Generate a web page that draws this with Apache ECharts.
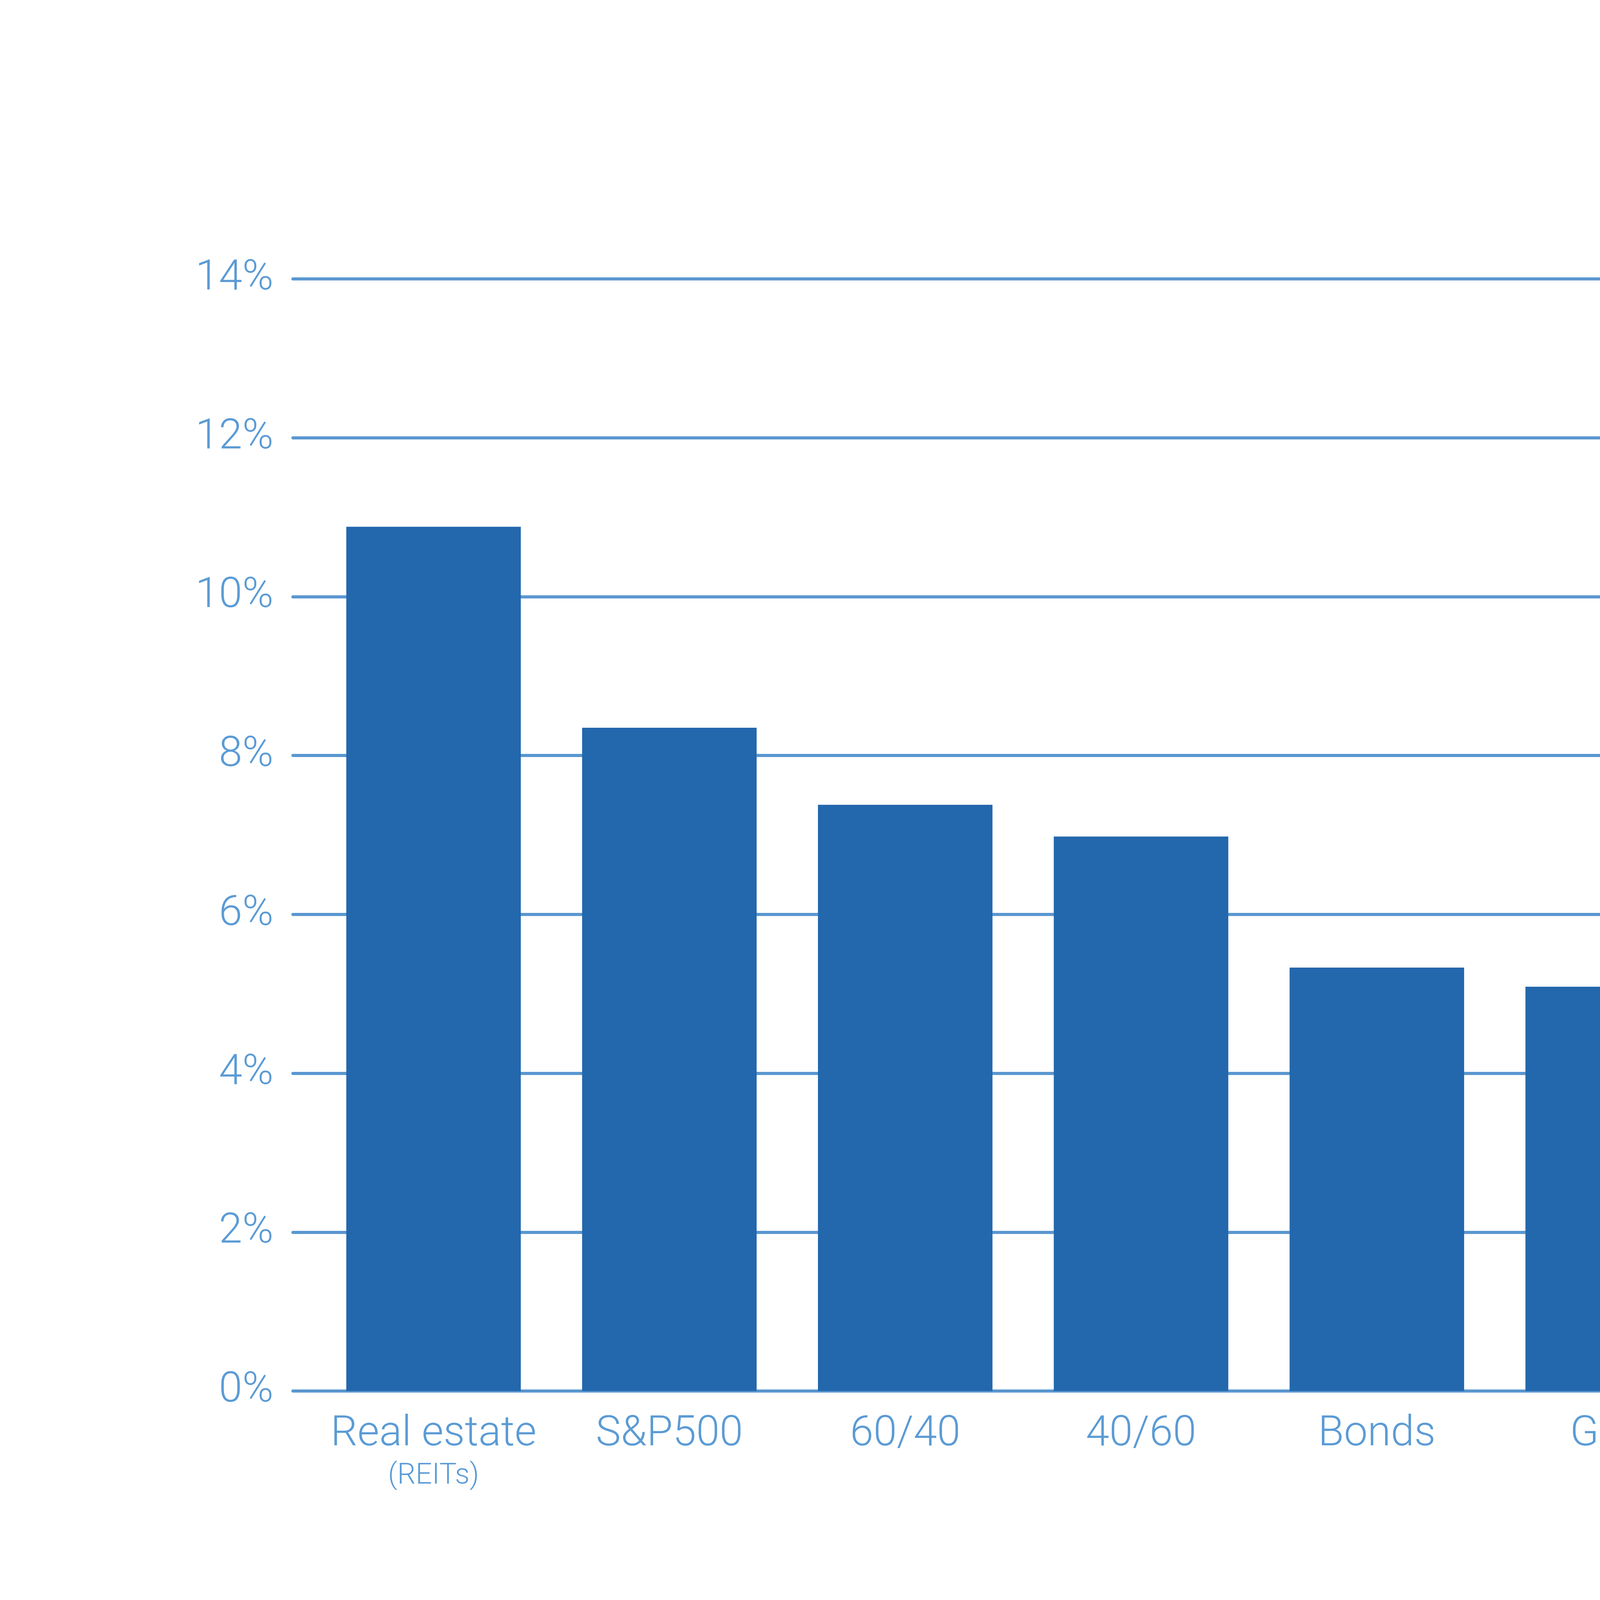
<!DOCTYPE html>
<html>
<head>
<meta charset="utf-8">
<script src="https://cdn.jsdelivr.net/npm/echarts@6/dist/echarts.min.js"></script>
<style>
  html, body { margin: 0; padding: 0; background: #ffffff; }
  #chart_div { width: 8000px; height: 4500px; }
</style>
</head>
<body>
<div id="chart_div"></div>
<script>
// data (annual return, %)
var categories = ['Real estate', 'S&P500', '60/40', '40/60', 'Bonds', 'Gold', 'Equities', 'House\nprices', 'Oil', 'Inflation', 'Average\ninvestor'];
var subLabels = ['(REITs)', '', '', '', '', '', '(ex US)', '', '', '', ''];
var returns = [10.88, 8.35, 7.38, 6.98, 5.33, 5.09, 4.74, 3.56, 3.34, 2.37, 2.0];
var highlight = 'Average\ninvestor';
var yTicks = [0, 2, 4, 6, 8, 10, 12, 14];

var c_bar = '#2367ad';
var c_hi = '#22b0e4';
var c_text = '#5b9bd5';
var c_grid = '#5a97d0';
var f_family = 'Roboto, "Liberation Sans", sans-serif';

var f_label = function(value, idx) {
	var sub = subLabels[idx];
	var lines = value.split('\n').map(function(s) { return '{a|' + s + '}'; });
	if (sub) lines.push('{b|' + sub + '}');
	return lines.join('\n');
};

var t_data = [];
for (var i = 0; i < returns.length; i++) {
	t_data.push({
		value: returns[i],
		itemStyle: { color: categories[i] === highlight ? c_hi : c_bar }
	});
}

var yMin = yTicks[0], yMax = yTicks[yTicks.length - 1], yStep = yTicks[1] - yTicks[0];

var option = {
	backgroundColor: '#ffffff',
	animation: false,
	grid: [
		// wide grid: gridlines + y labels
		{ left: 750, right: 495, top: 714, bottom: 939 },
		// narrow grid: the bars
		{ left: 808, right: 551, top: 714, bottom: 939 }
	],
	xAxis: [
		{ gridIndex: 0, type: 'category', data: [''], show: false },
		{
			gridIndex: 1, type: 'category', data: categories,
			axisLine: { show: false }, axisTick: { show: false },
			axisLabel: {
				margin: 45, interval: 0,
				formatter: f_label,
				rich: {
					a: { fontFamily: f_family, fontWeight: 300, fontSize: 108, lineHeight: 133, color: c_text, align: 'center' },
					b: { fontFamily: f_family, fontWeight: 300, fontSize: 74, lineHeight: 81, color: c_text, align: 'center' }
				}
			}
		}
	],
	yAxis: [
		{
			gridIndex: 0, type: 'value', min: yMin, max: yMax, interval: yStep,
			axisLine: { show: false }, axisTick: { show: false },
			axisLabel: {
				margin: 50, formatter: '{value}%',
				fontFamily: f_family, fontWeight: 300, fontSize: 108, color: c_text
			},
			splitLine: { show: true, lineStyle: { color: c_grid, width: 8, cap: 'round' } }
		},
		{
			gridIndex: 1, type: 'value', min: yMin, max: yMax, interval: yStep,
			show: false, splitLine: { show: false }
		}
	],
	series: [
		{
			type: 'bar', xAxisIndex: 1, yAxisIndex: 1,
			barCategoryGap: '26%',
			data: t_data
		}
	]
};

var chart = echarts.init(document.getElementById('chart_div'), null, { renderer: 'canvas' });
chart.setOption(option);
</script>
</body>
</html>
